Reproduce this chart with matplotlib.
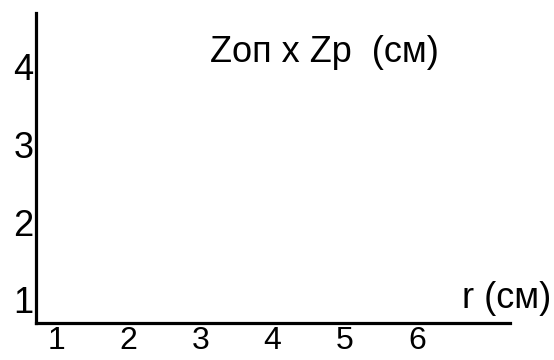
import matplotlib
matplotlib.use("Agg")
import matplotlib.pyplot as plt

plt.rcParams['font.family'] = ['Liberation Sans', 'DejaVu Sans']

# оси графика: r по горизонтали, Zоп x Zр по вертикали
x_ticks = [1, 2, 3, 4, 5, 6]
y_ticks = [1, 2, 3, 4]
x_lim = (0.72, 7.29)
y_lim = (0.705, 4.68)
title_text = "Zоп х Zр  (см)"
x_label = "r (см)"

fig = plt.figure(figsize=(5.54, 3.60), dpi=100)
# рамка осей в долях фигуры
ax = fig.add_axes([36 / 554, 1 - 323 / 360, 474 / 554, 310 / 360])

ax.set_xlim(*x_lim)
ax.set_ylim(*y_lim)
ax.set_xticks(x_ticks)
ax.set_yticks(y_ticks)
ax.set_xticklabels([str(v) for v in x_ticks], fontsize=23)
ax.set_yticklabels([str(v) for v in y_ticks], fontsize=26)
ax.tick_params(axis='x', length=0, pad=2)
ax.tick_params(axis='y', length=0, pad=2)

for side in ['top', 'right']:
    ax.spines[side].set_visible(False)
for side in ['left', 'bottom']:
    ax.spines[side].set_linewidth(2.3)
    ax.spines[side].set_color('black')

fig.text(210 / 554, 1 - 62 / 360, title_text, fontsize=26,
         ha='left', va='baseline')
fig.text(462 / 554, 1 - 308 / 360, x_label, fontsize=26,
         ha='left', va='baseline')

fig.savefig("out.png", dpi=100)
